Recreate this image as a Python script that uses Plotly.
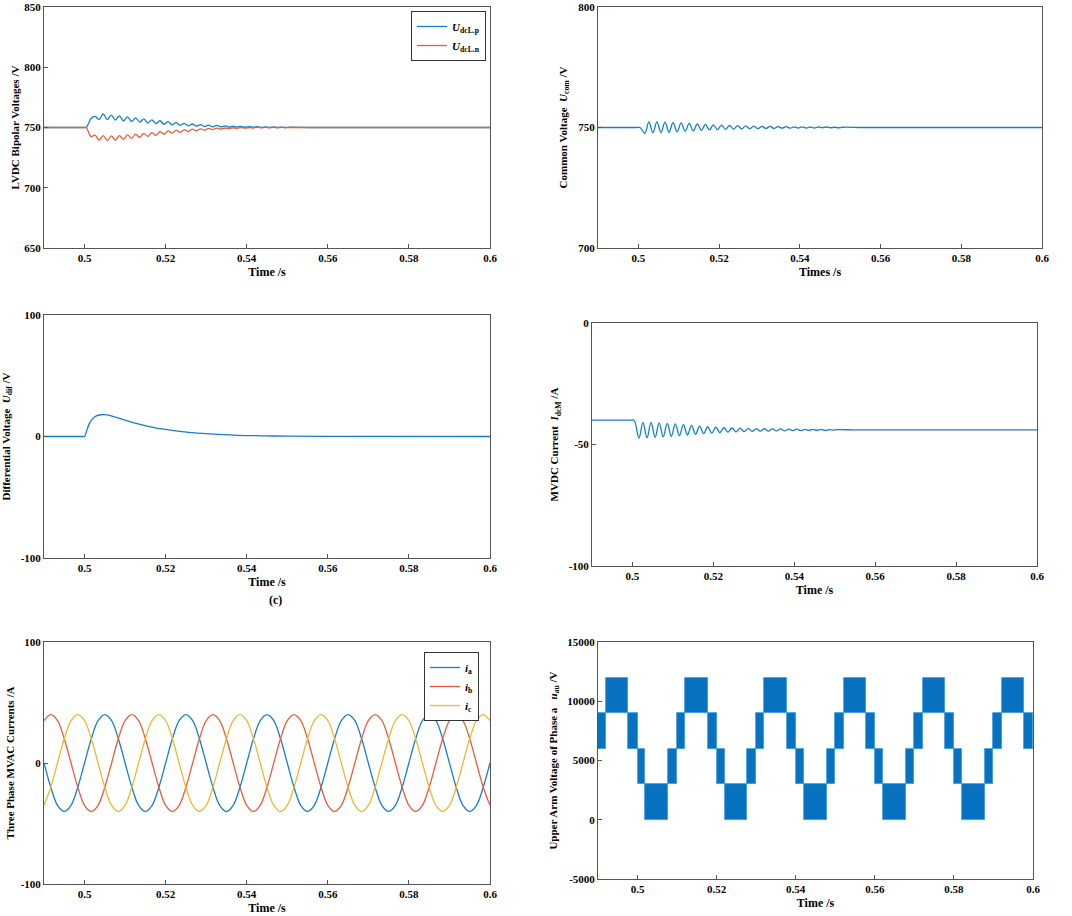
import plotly.graph_objects as go

# ---- data ----
x_ticks = [0.5, 0.52, 0.54, 0.56, 0.58, 0.6]
x_ticktext = ["0.5", "0.52", "0.54", "0.56", "0.58", "0.6"]

# times of the alternating local extremes of the 500 Hz ripple after the step at 0.5 s
osc_t = [0.5016, 0.5026, 0.5036, 0.5046, 0.5056, 0.5066, 0.5076, 0.5086, 0.5096, 0.5106,
         0.5116, 0.5126, 0.5136, 0.5146, 0.5156, 0.5166, 0.5176, 0.5186, 0.5196, 0.5206,
         0.5216, 0.5226, 0.5236, 0.5246, 0.5256, 0.5266, 0.5276, 0.5286, 0.5296, 0.5306,
         0.5316, 0.5326, 0.5336, 0.5346, 0.5356, 0.5366, 0.5376, 0.5386, 0.5396, 0.5406,
         0.5416, 0.5426, 0.5436, 0.5446, 0.5456, 0.5466, 0.5476, 0.5486, 0.5496, 0.5506]

udc_p = [757.5, 759.3, 756.6, 761.2, 756.6, 760.3, 756.2, 759.6, 755.6, 758.8,
         755.0, 758.0, 754.4, 757.2, 753.8, 756.4, 753.2, 755.6, 752.7, 754.8,
         752.2, 754.1, 751.8, 753.5, 751.4, 752.9, 751.1, 752.4, 750.8, 752.0,
         750.6, 751.7, 750.5, 751.4, 750.4, 751.2, 750.3, 751.0, 750.2, 750.8,
         750.2, 750.7, 750.1, 750.5, 750.1, 750.4, 750.0, 750.3, 750.0, 750.2]
udc_n = [742.5, 743.6, 739.4, 743.3, 739.2, 743.0, 739.5, 743.2, 740.2, 743.8,
         741.0, 744.5, 741.8, 745.2, 742.6, 745.8, 743.5, 746.5, 744.4, 747.2,
         745.3, 747.8, 746.0, 748.3, 746.7, 748.6, 747.3, 748.9, 747.8, 749.2,
         748.3, 749.4, 748.7, 749.6, 749.0, 749.8, 749.3, 749.9, 749.5, 750.0,
         749.6, 750.1, 749.7, 750.1, 749.8, 750.1, 749.9, 750.1, 749.9, 750.0]
u_com = [747.6, 752.3, 747.8, 752.3, 747.9, 752.2, 748.0, 752.0, 748.2, 751.9,
         748.4, 751.7, 748.6, 751.5, 748.8, 751.3, 749.0, 751.1, 749.1, 751.0,
         749.2, 750.9, 749.3, 750.8, 749.4, 750.7, 749.5, 750.6, 749.5, 750.5,
         749.6, 750.5, 749.6, 750.4, 749.7, 750.4, 749.7, 750.3, 749.8, 750.3,
         749.8, 750.2, 749.8, 750.2, 749.9, 750.2, 749.9, 750.1, 749.9, 750.1]
i_dcm = [-47.4, -40.9, -47.3, -40.9, -47.1, -41.1, -46.9, -41.3, -46.7, -41.5,
         -46.4, -41.8, -46.1, -42.1, -45.8, -42.4, -45.5, -42.7, -45.3, -42.9,
         -45.1, -43.1, -44.9, -43.2, -44.8, -43.3, -44.7, -43.4, -44.6, -43.5,
         -44.5, -43.5, -44.5, -43.6, -44.4, -43.6, -44.4, -43.7, -44.3, -43.7,
         -44.3, -43.8, -44.2, -43.8, -44.2, -43.8, -44.2, -43.9, -44.1, -43.9]

# steady values before and after the ripple
pre_t = [0.49, 0.4996, 0.5004]
post_t = [0.556, 0.6]
u_pre, u_post = 750, 750
i_pre, i_post = -40.0, -44.0

dif_t = [0.49, 0.4996, 0.5, 0.5006, 0.5014, 0.5026, 0.504, 0.5055, 0.508, 0.512, 0.516,
         0.52, 0.524, 0.528, 0.532, 0.536, 0.54, 0.545, 0.55, 0.56, 0.6]
u_dif = [0, 0, 0, 5.5, 12, 16.5, 17.9, 17.8, 15.5, 11.5, 8.2,
         5.8, 4.0, 2.8, 1.9, 1.3, 0.8, 0.5, 0.3, 0.1, 0]

# three phase currents sampled every 1/12 of a 50 Hz period from 0.49 s
ac_t0 = 0.49
ac_dt = 0.02 / 12
i_a = [0, -20, -35, -40, -35, -20, 0, 20, 35, 40, 35, 20,
       0, -20, -35, -40, -35, -20, 0, 20, 35, 40, 35, 20,
       0, -20, -35, -40, -35, -20, 0, 20, 35, 40, 35, 20,
       0, -20, -35, -40, -35, -20, 0, 20, 35, 40, 35, 20,
       0, -20, -35, -40, -35, -20, 0, 20, 35, 40, 35, 20,
       0, -20, -35, -40, -35, -20, 0]
i_b = [35, 40, 35, 20, 0, -20, -35, -40, -35, -20, 0, 20,
       35, 40, 35, 20, 0, -20, -35, -40, -35, -20, 0, 20,
       35, 40, 35, 20, 0, -20, -35, -40, -35, -20, 0, 20,
       35, 40, 35, 20, 0, -20, -35, -40, -35, -20, 0, 20,
       35, 40, 35, 20, 0, -20, -35, -40, -35, -20, 0, 20,
       35, 40, 35, 20, 0, -20, -35]
i_c = [-35, -20, 0, 20, 35, 40, 35, 20, 0, -20, -35, -40,
       -35, -20, 0, 20, 35, 40, 35, 20, 0, -20, -35, -40,
       -35, -20, 0, 20, 35, 40, 35, 20, 0, -20, -35, -40,
       -35, -20, 0, 20, 35, 40, 35, 20, 0, -20, -35, -40,
       -35, -20, 0, 20, 35, 40, 35, 20, 0, -20, -35, -40,
       -35, -20, 0, 20, 35, 40, 35]

# upper arm voltage: switching edges and the lower level of each PWM band
arm_edges = [0.4900, 0.4921, 0.4977, 0.5000, 0.5020, 0.5078, 0.5099, 0.5121, 0.5177,
             0.5200, 0.5220, 0.5278, 0.5299, 0.5321, 0.5377, 0.5400, 0.5420, 0.5478,
             0.5499, 0.5521, 0.5577, 0.5600, 0.5620, 0.5678, 0.5699, 0.5721, 0.5777,
             0.5800, 0.5820, 0.5878, 0.5899, 0.5921, 0.5977, 0.6000]
arm_low = [6000, 9000, 6000, 3000, 0, 3000, 6000, 9000, 6000, 3000, 0,
           3000, 6000, 9000, 6000, 3000, 0, 3000, 6000, 9000, 6000, 3000,
           0, 3000, 6000, 9000, 6000, 3000, 0, 3000, 6000, 9000, 6000]
arm_step = 3000

# ---- styling ----
BLUE = "#1380CC"
RED = "#EE5B3B"
YELLOW = "#F2B630"
FONT = "Liberation Serif, Times New Roman, serif"
W, H = 1072, 916

# plot boxes in pixels: left, right, top, bottom
boxes = {
    1: (44, 490, 7, 248),
    2: (598, 1042, 7, 248),
    3: (44, 490, 315, 558),
    4: (592, 1037, 323, 566),
    5: (44, 490, 642, 884),
    6: (598, 1033, 642, 879),
}

fig = go.Figure()


def line(x, y, n, color, name=None, legend=None, x0=None, dx=None):
    kw = dict(y=y, mode="lines", line=dict(color=color, width=1.3, shape="spline"),
              xaxis="x%d" % n, yaxis="y%d" % n, showlegend=name is not None)
    if x is None:
        kw.update(x0=x0, dx=dx)
    else:
        kw["x"] = x
    if name:
        kw["name"] = name
        kw["legend"] = legend
    fig.add_trace(go.Scatter(**kw))


osc_x = pre_t + osc_t + post_t
# (a) LVDC bipolar voltages
line(osc_x, [u_pre] * 3 + udc_p + [u_post] * 2, 1, BLUE, "<i>U</i><sub>dcL.p</sub>", "legend")
line(osc_x, [u_pre] * 3 + udc_n + [u_post] * 2, 1, RED, "<i>U</i><sub>dcL.n</sub>", "legend")
# (b) common voltage
line(osc_x, [u_pre] * 3 + u_com + [u_post] * 2, 2, BLUE)
# (c) differential voltage
line(dif_t, u_dif, 3, BLUE)
# (d) MVDC current
line(osc_x, [i_pre] * 3 + i_dcm + [i_post] * 2, 4, BLUE)
# (e) three phase currents
line(None, i_a, 5, BLUE, "<i>i</i><sub>a</sub>", "legend2", ac_t0, ac_dt)
line(None, i_b, 5, RED, "<i>i</i><sub>b</sub>", "legend2", ac_t0, ac_dt)
line(None, i_c, 5, YELLOW, "<i>i</i><sub>c</sub>", "legend2", ac_t0, ac_dt)
# (f) upper arm voltage
mids = [(a + b) / 2 for a, b in zip(arm_edges[:-1], arm_edges[1:])]
widths = [b - a for a, b in zip(arm_edges[:-1], arm_edges[1:])]
fig.add_trace(go.Bar(x=mids, y=[arm_step] * len(arm_low), base=arm_low, width=widths,
                     marker=dict(color="#0672C0", line=dict(color="#3D9BE0", width=0.8)),
                     xaxis="x6", yaxis="y6", showlegend=False))

y_specs = {
    1: ([650, 850], [650, 700, 750, 800, 850], "LVDC Bipolar Voltages /V", 2),
    2: ([700, 800], [700, 750, 800], "Common Voltage&nbsp; <i>U</i><sub>com</sub> /V", 8),
    3: ([-100, 100], [-100, 0, 100], "Differential Voltage&nbsp; <i>U</i><sub>dif</sub> /V", 11),
    4: ([-100, 0], [-100, -50, 0], "MVDC Current&nbsp; <i>I</i><sub>dcM</sub> /A", 7),
    5: ([-100, 100], [-100, 0, 100], "Three Phase MVAC Currents /A", 3),
    6: ([-5000, 15000], [-5000, 0, 5000, 10000, 15000],
        "Upper Arm Voltage of Phase a&nbsp;&nbsp; <i>u</i><sub>au</sub> /V", 7),
}
x_titles = {1: "Time /s", 2: "Times /s", 3: "Time /s", 4: "Time /s", 5: "Time /s", 6: "Time /s"}

axis_common = dict(showgrid=False, zeroline=False, showline=True, linecolor="#555555",
                   linewidth=1, mirror=True, ticks="inside", ticklen=4, tickcolor="#555555",
                   automargin=False, ticklabeloverflow="allow",
                   tickfont=dict(family=FONT, size=11, color="black", weight="bold"))

layout = dict(width=W, height=H, margin=dict(l=0, r=0, t=0, b=0, autoexpand=False),
              paper_bgcolor="white", plot_bgcolor="white",
              font=dict(family=FONT, size=11, color="black"), bargap=0)
for n, (l, r, t, b) in boxes.items():
    yr, yt, ytitle, ysd = y_specs[n]
    layout["xaxis%d" % n] = dict(axis_common, domain=[l / W, r / W], anchor="y%d" % n,
                                 range=[0.49, 0.6], tickvals=x_ticks, ticktext=x_ticktext,
                                 title=dict(text=x_titles[n], standoff=4,
                                            font=dict(family=FONT, size=12, weight="bold")))
    layout["yaxis%d" % n] = dict(axis_common, domain=[1 - b / H, 1 - t / H], anchor="x%d" % n,
                                 range=yr, tickvals=yt, ticktext=[str(v) for v in yt],
                                 title=dict(text=ytitle, standoff=ysd,
                                            font=dict(family=FONT, size=11, weight="bold")))

legend_style = dict(bgcolor="white", bordercolor="#333333", borderwidth=1,
                    font=dict(family=FONT, size=11, weight="bold"),
                    xanchor="right", yanchor="top", itemwidth=30, tracegroupgap=0)
layout["legend"] = dict(legend_style, x=486 / W, y=1 - 11 / H)
layout["legend2"] = dict(legend_style, x=479 / W, y=1 - 652 / H)
layout["annotations"] = [dict(text="(c)", x=(44 + 490) / 2 / W, y=1 - 600 / H, xref="paper",
                              yref="paper", showarrow=False,
                              font=dict(family=FONT, size=12, weight="bold"))]

fig.update_layout(**layout)
fig.write_html("out.html", config={"displayModeBar": False},
               post_script="document.body.style.margin = '0';")
